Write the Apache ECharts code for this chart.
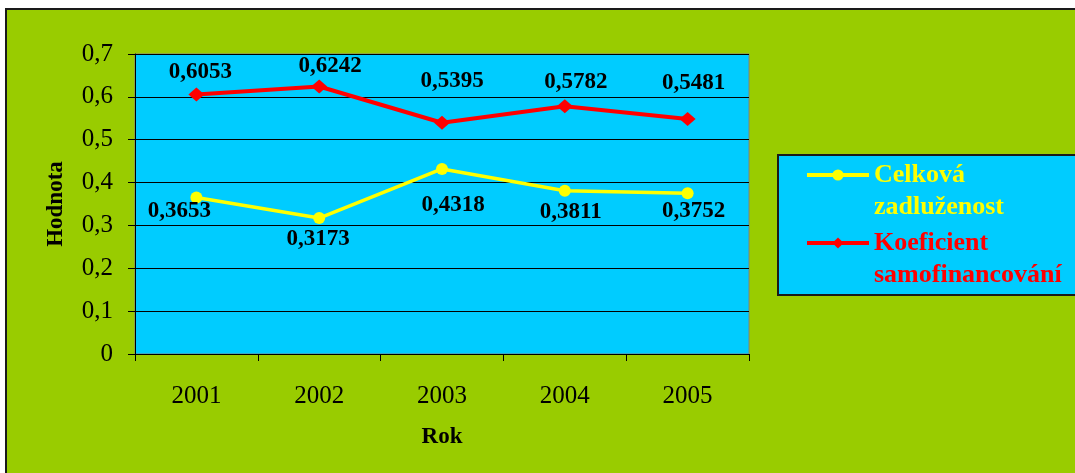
<!DOCTYPE html>
<html>
<head>
<meta charset="utf-8">
<script src="https://cdn.jsdelivr.net/npm/echarts@6/dist/echarts.min.js"></script>
<style>
  html, body { margin: 0; padding: 0; background: #ffffff; overflow: hidden; }
  #chart { width: 1075px; height: 473px; }
</style>
</head>
<body>
<div id="chart"></div>
<script>
// Years on the category axis
const years = ['2001', '2002', '2003', '2004', '2005'];
// Celková zadluženost (total indebtedness)
const debtRatio = [0.3653, 0.3173, 0.4318, 0.3811, 0.3752];
// Koeficient samofinancování (self-financing ratio)
const selfFinancing = [0.6053, 0.6242, 0.5395, 0.5782, 0.5481];
// Value axis tick labels, Czech decimal comma
const yTickLabels = ['0', '0,1', '0,2', '0,3', '0,4', '0,5', '0,6', '0,7'];

const serif = 'Liberation Serif';
const fmt = v => v.toFixed(4).replace('.', ',');

// Hand-placed value label shifts [dx, dy] relative to each point
const debtLabelShift = [[-17, 14], [-1, 21], [11, 36], [6, 21], [6, 18]];
const selfLabelShift = [[4, -23], [11, -20], [10, -42], [11, -24], [6, -36]];

function buildData(values, shifts) {
  return values.map((v, i) => ({
    value: v,
    label: { offset: shifts[i] }
  }));
}

const labelBase = {
  show: true,
  position: 'inside',
  color: '#000',
  fontFamily: serif,
  fontWeight: 'bold',
  fontSize: 23,
  formatter: p => fmt(p.value)
};

// Legend text: an empty first line keeps the icon level with the first word
const legendText = (color) => ({
  color: color,
  fontFamily: serif,
  fontWeight: 'bold',
  fontSize: 26,
  lineHeight: 32
});

const chart = echarts.init(document.getElementById('chart'), null, { renderer: 'canvas' });
chart.setOption({
  animation: false,
  backgroundColor: '#ffffff',
  graphic: {
    elements: [
      {
        // chart area panel, running off the right and bottom edges
        type: 'rect',
        z: -10,
        silent: true,
        shape: { x: 6, y: 9, width: 1200, height: 600 },
        style: { fill: '#99CC00', stroke: '#1a1a1a', lineWidth: 2 }
      },
      {
        // legend panel
        type: 'rect',
        z: 1,
        silent: true,
        shape: { x: 778, y: 155, width: 300, height: 140 },
        style: { fill: '#00CCFF', stroke: '#1a1a1a', lineWidth: 2 }
      }
    ]
  },
  grid: {
    left: 135, top: 54, width: 614, height: 300,
    show: true,
    backgroundColor: '#00CCFF',
    borderColor: '#808080',
    borderWidth: 1
  },
  legend: [
    {
      left: 805, top: 127, orient: 'vertical', padding: 0,
      itemWidth: 62, itemHeight: 14,
      lineStyle: { width: 4 },
      data: [{ name: 'Celková zadluženost', textStyle: legendText('#FFFF00') }],
      formatter: () => '\nCelková\nzadluženost'
    },
    {
      left: 805, top: 195, orient: 'vertical', padding: 0,
      itemWidth: 62, itemHeight: 14,
      lineStyle: { width: 4 },
      data: [{ name: 'Koeficient samofinancování', textStyle: legendText('#FF0000') }],
      formatter: () => '\nKoeficient\nsamofinancování'
    }
  ],
  xAxis: {
    type: 'category',
    data: years,
    boundaryGap: true,
    name: 'Rok',
    nameLocation: 'middle',
    nameGap: 72,
    nameTextStyle: { fontFamily: serif, fontWeight: 'bold', fontSize: 23, color: '#000' },
    axisLine: { lineStyle: { color: '#000', width: 1 } },
    axisTick: { show: true, inside: false, length: 7, lineStyle: { color: '#000' } },
    axisLabel: { fontFamily: serif, fontSize: 25, color: '#000', margin: 30 },
    splitLine: { show: false }
  },
  yAxis: {
    type: 'value',
    min: 0, max: 0.7, interval: 0.1,
    name: 'Hodnota',
    nameLocation: 'middle',
    nameRotate: 90,
    nameGap: 67,
    nameTextStyle: { fontFamily: serif, fontWeight: 'bold', fontSize: 23, color: '#000' },
    axisLine: { show: true, lineStyle: { color: '#000', width: 1 } },
    axisTick: { show: true, inside: false, length: 7, lineStyle: { color: '#000' } },
    axisLabel: {
      fontFamily: serif, fontSize: 25, color: '#000', margin: 22,
      formatter: v => yTickLabels[Math.round(v * 10)]
    },
    splitLine: { show: true, lineStyle: { color: '#000', width: 1 } }
  },
  series: [
    {
      name: 'Celková zadluženost',
      type: 'line',
      data: buildData(debtRatio, debtLabelShift),
      symbol: 'circle',
      symbolSize: 12,
      lineStyle: { color: '#FFFF00', width: 3.5 },
      itemStyle: { color: '#FFFF00' },
      label: labelBase,
      z: 3
    },
    {
      name: 'Koeficient samofinancování',
      type: 'line',
      data: buildData(selfFinancing, selfLabelShift),
      symbol: 'diamond',
      symbolSize: [16, 14],
      lineStyle: { color: '#FF0000', width: 4 },
      itemStyle: { color: '#FF0000' },
      label: labelBase,
      z: 3
    }
  ]
});
</script>
</body>
</html>
